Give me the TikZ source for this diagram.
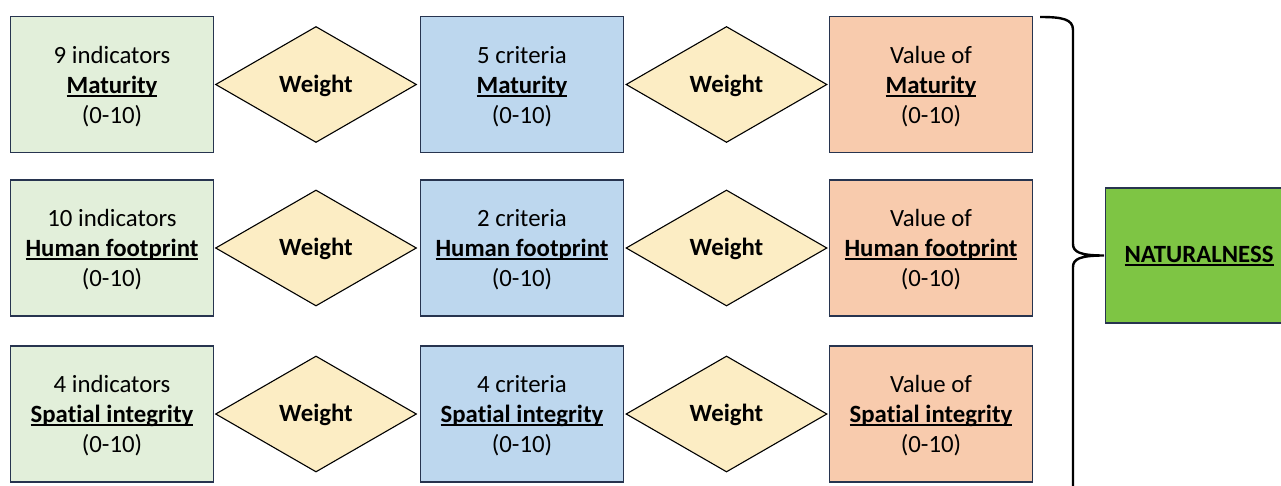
\documentclass[tikz,border=0pt]{standalone}
\usepackage{fontspec}
\setmainfont{Carlito}[Ligatures=CommonOff]
\usetikzlibrary{shapes.geometric}
\definecolor{gbox}{HTML}{E2EFDA}
\definecolor{bbox}{HTML}{BDD7EE}
\definecolor{obox}{HTML}{F8CBAD}
\definecolor{dfill}{HTML}{FCEDC4}
\definecolor{nfill}{HTML}{7EC544}
\definecolor{edge}{HTML}{27344F}
\newcommand{\myul}[1]{\setbox0\hbox{\textbf{#1}}\rlap{\rule[-3.4pt]{\wd0}{1.7pt}}\box0}
\newcommand{\fl}{\rule{0pt}{21pt}}
\tikzset{
  txt/.style={font=\fontsize{24.8}{30}\selectfont, align=center, text=black},
  box/.style={txt, draw=edge, line width=1.4pt, minimum width=203pt, minimum height=136pt, inner sep=0pt},
  gb/.style={box, fill=gbox},
  bb/.style={box, fill=bbox},
  ob/.style={box, fill=obox},
  wd/.style={txt, diamond, draw=black, line width=1.1pt, fill=dfill, minimum width=201pt, minimum height=116pt, inner sep=0pt, execute at begin node={\rule{0pt}{20pt}}},
  nb/.style={draw=edge, line width=1.4pt, fill=nfill, minimum width=190pt, minimum height=135pt, inner sep=0pt},
  brace/.style={draw=black, line width=2.4pt}
}
\begin{document}
\begin{tikzpicture}[x=1pt, y=-1pt]
\useasboundingbox (0,0) rectangle (1281,486);
\clip (0,0) rectangle (1281,486);
% row 1
\node[gb] (g1) at (112,84.5) {\fl 9 indicators\\\myul{Maturity}\\(0-10)};
\node[wd] (d11) at (316,84.5) {\textbf{Weight}};
\node[bb] (b1) at (522,84.5) {\fl 5 criteria\\\myul{Maturity}\\(0-10)};
\node[wd] (d12) at (726.5,84.5) {\textbf{Weight}};
\node[ob] (o1) at (931,84.5) {\fl Value of\\\myul{Maturity}\\(0-10)};
% row 2
\node[gb] (g2) at (112,248) {\fl 10 indicators\\\myul{Human footprint}\\(0-10)};
\node[wd] (d21) at (316,248) {\textbf{Weight}};
\node[bb] (b2) at (522,248) {\fl 2 criteria\\\myul{Human footprint}\\(0-10)};
\node[wd] (d22) at (726.5,248) {\textbf{Weight}};
\node[ob] (o2) at (931,248) {\fl Value of\\\myul{Human footprint}\\(0-10)};
% row 3
\node[gb] (g3) at (112,414) {\fl 4 indicators\\\myul{Spatial integrity}\\(0-10)};
\node[wd] (d31) at (316,414) {\textbf{Weight}};
\node[bb] (b3) at (522,414) {\fl 4 criteria\\\myul{Spatial integrity}\\(0-10)};
\node[wd] (d32) at (726.5,414) {\textbf{Weight}};
\node[ob] (o3) at (931,414) {\fl Value of\\\myul{Spatial integrity}\\(0-10)};
% naturalness
\node[nb, anchor=west] (n) at (1105,255.5) {};
\node[txt] (nt) at (1199,256) {\myul{NATURALNESS}};
% brace
\coordinate (bt) at (1040,17);
\coordinate (bm) at (1104,255.5);
\coordinate (bb) at (1073,490);
\draw[brace] (bt) .. controls (1062,17) and (1073,19) .. (1073,30)
  -- (1073,244) .. controls (1073,252) and (1080,255.5) .. (bm)
  .. controls (1080,255.5) and (1073,259) .. (1073,267) -- (bb);
\end{tikzpicture}
\end{document}
